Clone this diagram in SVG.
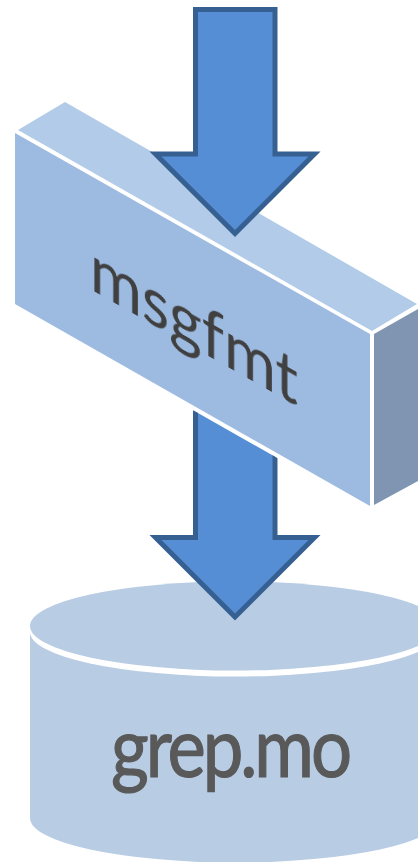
<svg xmlns="http://www.w3.org/2000/svg" width="418" height="862" viewBox="0 0 418 862">
<style>
.arrow{fill:#558ED5;stroke:#376092;stroke-width:5;stroke-linejoin:miter;stroke-miterlimit:10}
.cyl{fill:#B8CCE4}
.label{font-family:"Lato","Open Sans",sans-serif}
</style>
<defs>
<clipPath id="belowBox"><polygon points="0,300.5 418,538 418,862 0,862"/></clipPath>
<filter id="soft" x="-5%" y="-5%" width="110%" height="110%"><feGaussianBlur stdDeviation="0.5"/></filter>
</defs>
<rect width="418" height="862" fill="#FFFFFF"/>
<g id="grep-mo">
<path class="cyl" d="M30,632V818A205,44.5 0 0 0 440,818V632Z"/>
<ellipse cx="235" cy="632" rx="205" ry="44.5" fill="#FFFFFF"/>
<ellipse class="cyl" cx="235" cy="626" rx="205" ry="44.5"/>
<text class="label" x="111" y="777" font-size="83" letter-spacing="-3.5" textLength="238" lengthAdjust="spacingAndGlyphs" fill="#595959" stroke="#595959" stroke-width="1.2">grep.mo</text>
</g>
<g id="msgfmt">
<polygon points="18,130 65,102 417,304 372,331" fill="#B1CBE9"/>
<polygon points="15,133 370,334 370,506 15,304" fill="#9DBBE1"/>
<polygon points="374,334 418,309 418,481 374,505" fill="#7F95B1"/>
<text class="label" transform="matrix(1,0.566,0,1,90,289)" font-size="68" textLength="208" lengthAdjust="spacingAndGlyphs" fill="#404040" filter="url(#soft)">msgfmt</text>
</g>
<g id="connectors">
<polygon class="arrow" clip-path="url(#belowBox)" points="195.5,390 275,390 275,537.5 314.5,537.5 235,617 155.5,537.5 195.5,537.5"/>
<polygon class="arrow" points="195.5,9.5 275,9.5 275,154 314.5,154 235,233.5 155.5,154 195.5,154"/>
</g>
</svg>
